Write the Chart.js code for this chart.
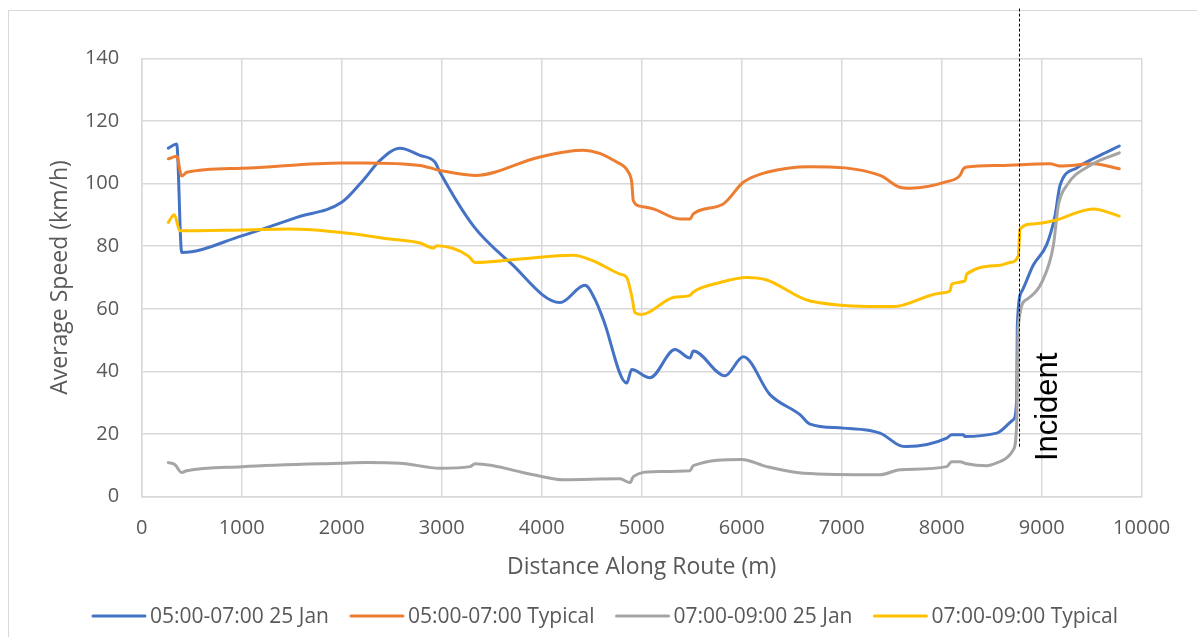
<!DOCTYPE html>
<html>
<head>
<meta charset="utf-8">
<script src="https://cdn.jsdelivr.net/npm/chart.js@4.4.1/dist/chart.umd.min.js"></script>
<style>
  html, body { margin: 0; padding: 0; background: #ffffff; }
  #wrap { position: relative; width: 1197px; height: 637px; overflow: hidden; }
  #frame { position: absolute; left: 8px; top: 10px; width: 1300px; height: 700px;
           border: 1.5px solid #d9d9d9; box-sizing: border-box; }
  #c { position: absolute; left: 0; top: 0; }
</style>
</head>
<body>
<div id="wrap">
  <div id="frame"></div>
  <canvas id="c" width="1197" height="637"></canvas>
</div>
<script>
// Series names
const seriesLabels = ['05:00-07:00 25 Jan', '05:00-07:00 Typical', '07:00-09:00 25 Jan', '07:00-09:00 Typical'];
const seriesColors = ['#4472C4', '#ED7D31', '#A5A5A5', '#FFC000'];

// 05:00-07:00 on 25 Jan
const jan25EarlyDist  = [266, 350, 400, 1000, 1550, 2000, 2213, 2383, 2583, 2783, 2933, 2983, 3316, 3683, 4183, 4433, 4533, 4616, 4850, 4900, 5083, 5333, 5483, 5516, 5833, 6016, 6283, 6583, 6683, 7016, 7383, 7583, 7650, 8050, 8100, 8216, 8233, 8550, 8716, 8750, 8756, 8800, 8916, 9050, 9133, 9183, 9350, 9583, 9776];
const jan25EarlySpeed = [111.3, 112.6, 78, 83.3, 89.2, 94, 101, 107.4, 111.3, 109, 106.8, 103.6, 86.5, 74.8, 62, 67.5, 63, 56.6, 36.3, 40.6, 38, 47, 44.3, 46.5, 38.6, 44.7, 32.6, 26.2, 23.2, 21.9, 20.3, 16.3, 16, 18.7, 19.8, 19.8, 19.2, 20.3, 24.6, 31, 54.5, 65.5, 74, 80.5, 89.7, 99.4, 105, 109, 112];

// 05:00-07:00 typical day
const typicalEarlyDist  = [266, 350, 400, 450, 1000, 2000, 2216, 2783, 2983, 3333, 3983, 4416, 4750, 4866, 4900, 4916, 4983, 5116, 5383, 5483, 5516, 5816, 6016, 6250, 6683, 7383, 7583, 7683, 8050, 8183, 8216, 8250, 8583, 9083, 9183, 9516, 9776];
const typicalEarlySpeed = [107.9, 108.7, 102.4, 103.6, 104.9, 106.6, 106.6, 105.8, 104.2, 102.6, 108.5, 110.6, 106.9, 103.7, 100.4, 94.6, 92.8, 91.9, 88.7, 88.7, 90.3, 93.5, 100.4, 103.6, 105.4, 102.6, 98.8, 98.5, 100.6, 102.6, 104.7, 105.3, 105.8, 106.3, 105.6, 106.3, 104.7];

// 07:00-09:00 on 25 Jan
const jan25LateDist  = [266, 333, 400, 450, 1000, 2000, 2250, 2583, 2983, 3283, 3333, 3916, 4216, 4783, 4883, 4916, 5116, 5483, 5516, 6000, 6250, 6616, 7383, 7583, 8050, 8100, 8183, 8250, 8450, 8583, 8716, 8750, 8766, 8850, 9016, 9116, 9166, 9250, 9483, 9776];
const jan25LateSpeed = [10.9, 10.2, 7.7, 8.3, 9.6, 10.7, 10.9, 10.7, 9.1, 9.6, 10.5, 7, 5.4, 5.7, 4.5, 6.4, 8, 8.3, 9.9, 11.9, 9.6, 7.5, 7, 8.6, 9.6, 11.2, 11.2, 10.5, 9.9, 11.2, 15, 23.5, 54.5, 63, 69.5, 80.1, 93, 99.4, 105.8, 109.8];

// 07:00-09:00 typical day
const typicalLateDist  = [266, 326, 383, 1000, 1483, 2000, 2483, 2783, 2916, 2950, 3266, 3333, 3783, 4316, 4516, 4783, 4850, 4900, 4933, 5000, 5316, 5483, 5516, 5783, 6050, 6250, 6683, 7516, 7983, 8083, 8100, 8233, 8250, 8583, 8683, 8766, 8776, 8783, 8916, 9116, 9516, 9776];
const typicalLateSpeed = [87.6, 90, 84.9, 85.2, 85.5, 84.4, 82.3, 81, 79.4, 80.1, 76.9, 74.8, 75.9, 77.1, 75.3, 71.1, 70, 64.1, 58.8, 58.2, 63.6, 64.3, 65.4, 68.4, 70, 69.2, 62.5, 60.7, 65, 65.7, 67.9, 68.9, 71.1, 73.9, 74.8, 76.9, 82.3, 85.5, 87.1, 88.1, 91.9, 89.6];

// Axis ranges and tick spacing
const xRange = [0, 10000], xStep = 1000;
const yRange = [0, 140], yStep = 20;

// Incident marker: route position and vertical extent (km/h)
const incidentDistance = 8776;
const incidentSpan = [16, 156];
const incidentText = 'Incident';
const incidentLabelAt = [9063, 28.7];

const pairs = (xs, ys) => xs.map((x, i) => ({ x: x, y: ys[i] }));
const seriesData = [
  pairs(jan25EarlyDist, jan25EarlySpeed),
  pairs(typicalEarlyDist, typicalEarlySpeed),
  pairs(jan25LateDist, jan25LateSpeed),
  pairs(typicalLateDist, typicalLateSpeed)
];

const GRID = '#d9d9d9';
const TEXT = '#595959';
const FONT = "'Open Sans', 'Noto Sans', sans-serif";

const incidentPlugin = {
  id: 'incident',
  afterDatasetsDraw(chart) {
    const { ctx, scales: { x, y } } = chart;
    const px = Math.round(x.getPixelForValue(incidentDistance)) + 0.5;
    ctx.save();
    ctx.strokeStyle = '#000000';
    ctx.lineWidth = 1;
    ctx.setLineDash([3, 2]);
    ctx.beginPath();
    ctx.moveTo(px, y.getPixelForValue(incidentSpan[0]));
    ctx.lineTo(px, y.getPixelForValue(incidentSpan[1]));
    ctx.stroke();
    ctx.setLineDash([]);
    ctx.translate(x.getPixelForValue(incidentLabelAt[0]), y.getPixelForValue(incidentLabelAt[1]));
    ctx.rotate(-Math.PI / 2);
    ctx.fillStyle = '#000000';
    ctx.font = "31px 'Liberation Sans', Arial, sans-serif";
    ctx.textAlign = 'center';
    ctx.textBaseline = 'middle';
    ctx.fillText(incidentText, 0, 0);
    ctx.restore();
  }
};

// Legend row under the axis title: short line sample then label
const lineLegendPlugin = {
  id: 'lineLegend',
  afterDraw(chart) {
    const { ctx } = chart;
    const sample = 52, gap = 5, spacing = 22, rowY = 616, centerX = 605.5;
    ctx.save();
    ctx.font = '21px ' + FONT;
    ctx.textBaseline = 'middle';
    ctx.textAlign = 'left';
    const widths = seriesLabels.map(t => ctx.measureText(t).width);
    const total = widths.reduce((a, w) => a + sample + gap + w, 0) + spacing * (widths.length - 1);
    let cx = centerX - total / 2;
    seriesLabels.forEach((t, i) => {
      ctx.strokeStyle = seriesColors[i];
      ctx.lineWidth = 3;
      ctx.lineCap = 'round';
      ctx.beginPath();
      ctx.moveTo(cx, rowY);
      ctx.lineTo(cx + sample, rowY);
      ctx.stroke();
      ctx.fillStyle = TEXT;
      ctx.fillText(t, cx + sample + gap, rowY + 1);
      cx += sample + gap + widths[i] + spacing;
    });
    ctx.restore();
  }
};

const drawOrder = [4, 3, 2, 1];

new Chart(document.getElementById('c'), {
  type: 'line',
  data: {
    datasets: seriesData.map((d, i) => ({
      label: seriesLabels[i],
      data: d,
      borderColor: seriesColors[i],
      backgroundColor: seriesColors[i],
      borderWidth: 3,
      pointRadius: 0,
      pointHoverRadius: 0,
      fill: false,
      cubicInterpolationMode: 'monotone',
      borderCapStyle: 'round',
      borderJoinStyle: 'round',
      order: drawOrder[i]
    }))
  },
  options: {
    responsive: false,
    animation: false,
    devicePixelRatio: 1,
    layout: { padding: { left: 0, right: 55.3, top: 58.3, bottom: 0 } },
    plugins: { legend: { display: false }, tooltip: { enabled: false } },
    scales: {
      x: {
        type: 'linear',
        min: xRange[0], max: xRange[1],
        afterFit(s) { s.height = 140.3; },
        ticks: { stepSize: xStep, padding: 20, color: TEXT, font: { family: FONT, size: 20 },
                 maxRotation: 0, callback: v => String(v) },
        grid: { color: GRID, lineWidth: 1.5, drawTicks: false },
        border: { color: GRID, width: 1.5 },
        title: { display: true, text: 'Distance Along Route (m)', color: TEXT,
                 font: { family: FONT, size: 23 }, padding: { top: 0, bottom: 56 } }
      },
      y: {
        min: yRange[0], max: yRange[1],
        afterFit(s) { s.width = 141.7; },
        ticks: { stepSize: yStep, padding: 22.5, color: TEXT, font: { family: FONT, size: 20 } },
        grid: { color: GRID, lineWidth: 1.5, drawTicks: false },
        border: { color: GRID, width: 1.5 },
        title: { display: true, text: 'Average Speed (km/h)', color: TEXT,
                 font: { family: FONT, size: 23 }, padding: { top: 47, bottom: 0 } }
      }
    }
  },
  plugins: [incidentPlugin, lineLegendPlugin]
});
</script>
</body>
</html>
